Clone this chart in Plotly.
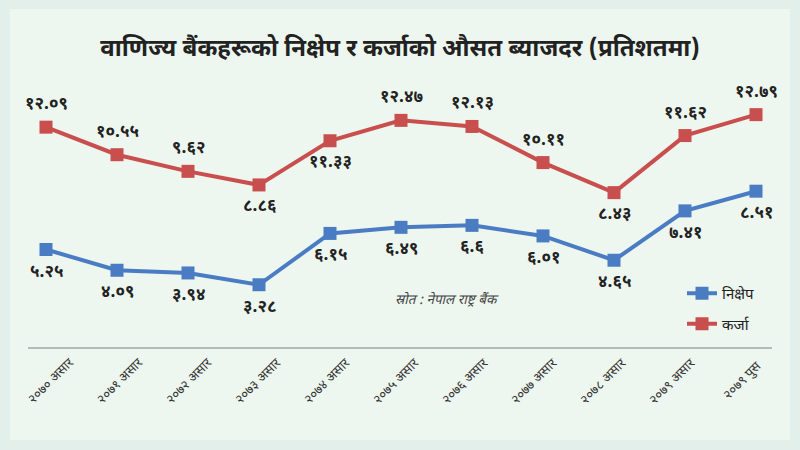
import plotly.graph_objects as go

categories = ["२०७० असार", "२०७१ असार", "२०७२ असार", "२०७३ असार", "२०७४ असार",
              "२०७५ असार", "२०७६ असार", "२०७७ असार", "२०७८ असार", "२०७९ असार", "२०७९ पुस"]
deposit = [5.25, 4.09, 3.94, 3.28, 6.15, 6.49, 6.6, 6.01, 4.65, 7.41, 8.51]
loan = [12.09, 10.55, 9.62, 8.86, 11.33, 12.47, 12.13, 10.11, 8.43, 11.62, 12.79]
deposit_labels = ["५.२५", "४.०९", "३.९४", "३.२८", "६.१५", "६.४९", "६.६", "६.०१", "४.६५", "७.४१", "८.५१"]
loan_labels = ["१२.०९", "१०.५५", "९.६२", "८.८६", "११.३३", "१२.४७", "१२.१३", "१०.११", "८.४३", "११.६२", "१२.७९"]
loan_above = [True, True, True, False, False, True, True, True, False, True, True]

FONT = "Noto Sans Devanagari, Noto Sans, sans-serif"
BLUE = "#4a7cc4"
RED = "#c84f4d"

x = list(range(len(categories)))

fig = go.Figure()
fig.add_trace(go.Scatter(
    x=x, y=deposit, name="निक्षेप", mode="lines+markers", legendgroup="a",
    line=dict(color=BLUE, width=4), marker=dict(symbol="square", size=13, color=BLUE),
))
fig.add_trace(go.Scatter(
    x=x, y=loan, name="कर्जा", mode="lines+markers", legendgroup="b",
    line=dict(color=RED, width=4), marker=dict(symbol="square", size=13, color=RED),
))

label_font = dict(family=FONT, size=17, color="#222222", weight="bold")
for xi, v, t in zip(x, deposit, deposit_labels):
    fig.add_annotation(x=xi, y=v, text=t, showarrow=False, yshift=-23, font=label_font)
for xi, v, t, up in zip(x, loan, loan_labels, loan_above):
    fig.add_annotation(x=xi, y=v, text=t, showarrow=False, yshift=22 if up else -22, font=label_font)

# rotated category labels
for xi, t in zip(x, categories):
    fig.add_annotation(x=xi, xref="x", y=0, yref="paper", text=t, showarrow=False,
                       textangle=-45, xanchor="center", yanchor="middle",
                       xshift=5 - 1.9 * xi, yshift=-34,
                       font=dict(family=FONT, size=13, color="#333333"))

fig.add_shape(type="rect", xref="paper", yref="paper", x0=-18 / 744, x1=1 + 18 / 744,
              y0=-93 / 254, y1=1 + 84 / 254, fillcolor="#edf6ef", line=dict(width=0), layer="below")

fig.add_annotation(text="<i>स्रोत : नेपाल राष्ट्र बैंक</i>", xref="paper", yref="paper",
                   x=(447 - 28) / 744, y=(347 - 312) / 254, showarrow=False,
                   font=dict(family=FONT, size=13.5, color="#444444"))

fig.update_layout(
    width=800, height=450,
    margin=dict(l=28, r=28, t=93, b=103, autoexpand=False),
    paper_bgcolor="#e3efea", plot_bgcolor="rgba(0,0,0,0)",
    title=dict(text="<b>वाणिज्य बैंकहरूको निक्षेप र कर्जाको औसत ब्याजदर (प्रतिशतमा)</b>",
               x=0.5, xanchor="center", y=1 - 48 / 450, yanchor="middle",
               font=dict(family=FONT, size=24, color="#222222")),
    showlegend=True,
    legend=dict(x=(682 - 28) / 744, y=(347 - 277) / 254, xanchor="left", yanchor="top",
                bgcolor="rgba(0,0,0,0)", traceorder="grouped", tracegroupgap=8,
                font=dict(family=FONT, size=15, color="#222222")),
    font=dict(family=FONT),
)
fig.update_xaxes(range=[-0.2535, 10.2254], tickmode="array", tickvals=x, showticklabels=False,
                 showgrid=False, zeroline=False, showline=True, automargin=False,
                 linecolor="#b5b9b7", linewidth=1.5, ticks="")
fig.update_yaxes(range=[-0.2, 14], showgrid=False, zeroline=False, showticklabels=False,
                 showline=False, automargin=False)

fig.write_html("out.html", config={"displayModeBar": False},
               post_script="document.body.style.margin='0';")
